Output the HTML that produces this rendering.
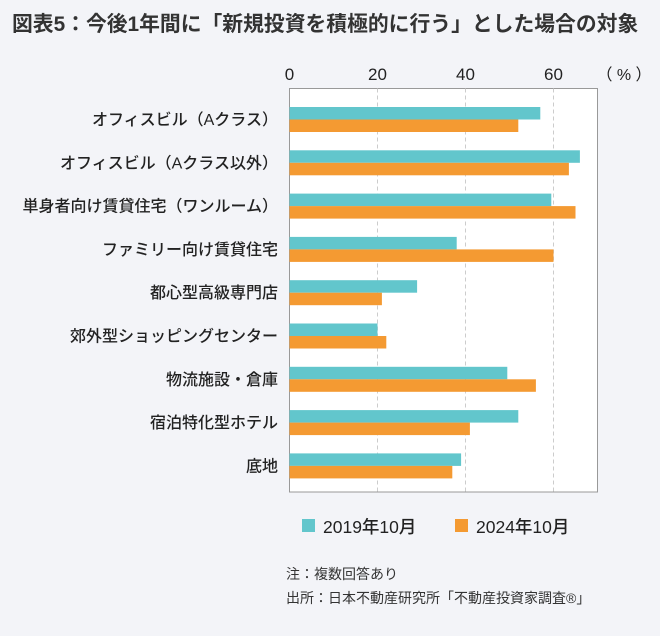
<!DOCTYPE html>
<html><head><meta charset="utf-8">
<style>
body{margin:0;width:660px;height:631px;background:#f3f4f8;font-family:"Liberation Sans","Noto Sans CJK JP",sans-serif;overflow:hidden}
</style></head>
<body>
<svg id="c" width="660" height="631" xmlns="http://www.w3.org/2000/svg"></svg>
<script>
const categories=["オフィスビル（Aクラス）","オフィスビル（Aクラス以外）","単身者向け賃貸住宅（ワンルーム）","ファミリー向け賃貸住宅","都心型高級専門店","郊外型ショッピングセンター","物流施設・倉庫","宿泊特化型ホテル","底地"];
const s2019=[57,66,59.5,38,29,20,49.5,52,39];
const s2024=[52,63.5,65,60,21,22,56,41,37];
const ticks=[0,20,40,60];
const NS="http://www.w3.org/2000/svg";
const svgEl=document.getElementById('c');
function el(t,a,txt){const e=document.createElementNS(NS,t);for(const k in a)e.setAttribute(k,a[k]);if(txt!=null)e.textContent=txt;svgEl.appendChild(e);return e;}
const x0=289.5,px=4.4,plotTop=88.5,plotBottom=492,plotRight=597.5;
const xs=v=>x0+v*px;
const gy=i=>107+i*43.3;
let t=el('text',{x:12,y:31,'font-size':20.8,'font-weight':'bold',fill:'#333'},'図表5：今後1年間に「新規投資を積極的に行う」とした場合の対象');


let r=el('rect',{x:x0,y:plotTop,width:plotRight-x0,height:plotBottom-plotTop,fill:'#fff',stroke:'#999','stroke-width':1});


ticks.forEach(v=>{
  if(v>0){let g=el('line',{x1:xs(v),x2:xs(v),y1:plotTop,y2:plotBottom,stroke:'#ccc','stroke-dasharray':'4,3'});
  
  }
  let l=el('text',{x:xs(v),y:80,'font-size':17,'text-anchor':'middle',fill:'#222'},String(v));
  
  
});
let u=el('text',{x:624,y:80,'font-size':16,'text-anchor':'middle',fill:'#222'},'（ % ）');


categories.forEach((c,i)=>{
  const y=gy(i);
  let b1=el('rect',{x:x0,y:y,width:s2019[i]*px,height:12.5,fill:'#62c6cc'});
  
  
  let b2=el('rect',{x:x0,y:y+12.5,width:s2024[i]*px,height:12.5,fill:'#f49a32'});
  
  
  let l=el('text',{x:278,y:y+18,'font-size':16,'font-weight':'500','text-anchor':'end',fill:'#222'},c);
  
  
});
[[302,'#62c6cc','2019年10月'],[455,'#f49a32','2024年10月']].forEach(([x,col,lab])=>{
  let s=el('rect',{x:x,y:519,width:13,height:13,fill:col});
  
  
  let l=el('text',{x:x+21,y:533,'font-size':17.5,'font-weight':'500',fill:'#222'},lab);
  
  
});
let n1=el('text',{x:286,y:579,'font-size':14,fill:'#333'},'注：複数回答あり');


let n2=el('text',{x:286,y:603,'font-size':14,fill:'#333'},'出所：日本不動産研究所「不動産投資家調査®」');


</script>
</body></html>
